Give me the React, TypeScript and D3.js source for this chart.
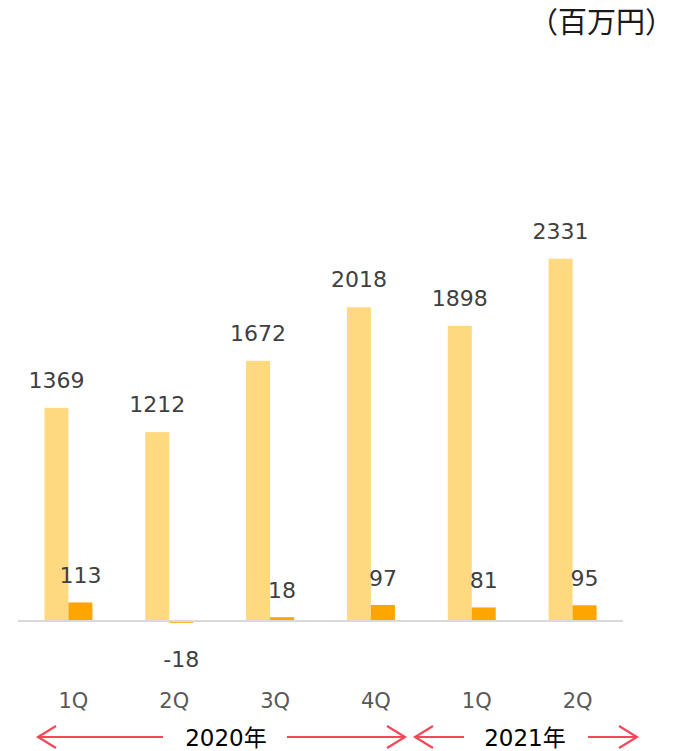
import React from "react";
import * as d3 from "d3";

const categories = ["1Q", "2Q", "3Q", "4Q", "1Q", "2Q"];
const sales = [1369, 1212, 1672, 2018, 1898, 2331];
const profit = [113, -18, 18, 97, 81, 95];
const periods = [
  { label: "2020年", from: 0, to: 3 },
  { label: "2021年", from: 4, to: 5 },
];
const unitLabel = "（百万円）";

const W = 676;
const H = 751;
const FONT = "'DejaVu Sans', 'Noto Sans CJK JP', sans-serif";
const CJK = "'Noto Sans CJK JP', sans-serif";

export default function App() {
  const x = d3
    .scaleBand<number>()
    .domain(categories.map((_, i) => i))
    .range([18, 623])
    .padding(0);
  const y = d3.scaleLinear().domain([-500, 3000]).range([697.5, 155]);
  const bw = 24;
  const cx = (i: number) => (x(i) as number) + x.bandwidth() / 2;
  const y0 = y(0);
  const arrowColor = "#F4475A";
  const arrowY = 737;

  const arrows = [
    { left: 38, lineL: 163, lineR: 287, right: 405, textX: 226 },
    { left: 415, lineL: 464, lineR: 588, right: 637, textX: 525 },
  ];

  return (
    <svg
      width={W}
      height={H}
      style={{ position: "absolute", left: 0, top: 0, background: "#fff" }}
    >
      <text
        x={674}
        y={33}
        textAnchor="end"
        fontFamily={CJK}
        fontSize={29}
        fill="#1a1a1a"
      >
        {unitLabel}
      </text>

      {sales.map((v, i) => (
        <rect
          key={"s" + i}
          x={cx(i) - bw}
          y={y(v)}
          width={bw}
          height={y0 - y(v)}
          fill="#FFD97F"
        />
      ))}
      {profit.map((v, i) => (
        <rect
          key={"p" + i}
          x={cx(i)}
          y={Math.min(y(v), y0)}
          width={bw}
          height={Math.abs(y0 - y(v))}
          fill="#FFA500"
        />
      ))}

      <line x1={18} x2={623} y1={y0 + 1} y2={y0 + 1} stroke="#D9D9D9" strokeWidth={2} />

      {sales.map((v, i) => (
        <text
          key={"sl" + i}
          x={cx(i) - bw / 2}
          y={y(v) - 20}
          textAnchor="middle"
          fontFamily={FONT}
          fontSize={22}
          fill="#404040"
        >
          {v}
        </text>
      ))}
      {profit.map((v, i) => (
        <text
          key={"pl" + i}
          x={cx(i) + bw / 2}
          y={v >= 0 ? y(v) - 19 : y(v) + 44}
          textAnchor="middle"
          fontFamily={FONT}
          fontSize={22}
          fill="#404040"
        >
          {v}
        </text>
      ))}

      {categories.map((c, i) => (
        <text
          key={"c" + i}
          x={cx(i) + 5}
          y={708}
          textAnchor="middle"
          fontFamily={FONT}
          fontSize={21}
          fill="#595959"
        >
          {c}
        </text>
      ))}

      {periods.map((p, k) => {
        const a = arrows[k];
        return (
          <g key={"per" + k} stroke={arrowColor} strokeWidth={2.2} fill="none">
            <line x1={a.left} x2={a.lineL} y1={arrowY} y2={arrowY} />
            <polyline
              points={`${a.left + 18},${arrowY - 11} ${a.left},${arrowY} ${a.left + 18},${arrowY + 11}`}
            />
            <line x1={a.lineR} x2={a.right} y1={arrowY} y2={arrowY} />
            <polyline
              points={`${a.right - 18},${arrowY - 11} ${a.right},${arrowY} ${a.right - 18},${arrowY + 11}`}
            />
            <text
              x={a.textX}
              y={746}
              textAnchor="middle"
              fontFamily={FONT}
              fontSize={23}
              fill="#000"
              stroke="none"
            >
              {p.label}
            </text>
          </g>
        );
      })}
    </svg>
  );
}
